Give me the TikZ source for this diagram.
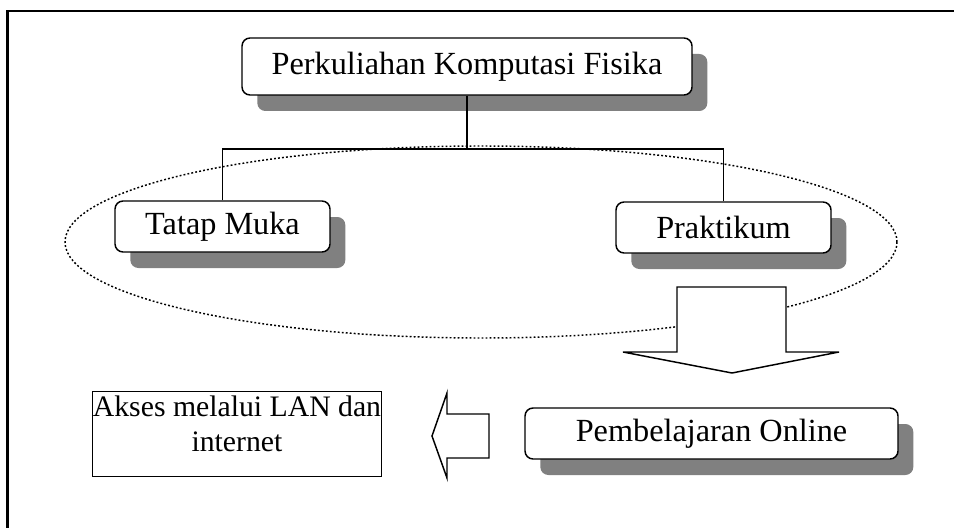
\documentclass[tikz,border=0pt]{standalone}
\usepackage{fontspec}
\setmainfont{Liberation Serif}
\usetikzlibrary{shadows}

\tikzstyle{block} = [rectangle, draw, line width=1.1pt, fill=white, rounded corners=6pt, minimum height=38.25pt, font=\fontsize{24.2}{28}\selectfont, drop shadow={shadow xshift=11.5pt, shadow yshift=-12pt, fill=black!50, opacity=1}]
\tikzstyle{bigarrow} = [draw, line width=1.1pt, fill=white, line join=miter]

\begin{document}
\begin{tikzpicture}[x=0.75pt, y=-0.75pt]
        \tikzset{line/.style={line width=1.1pt}}
        \useasboundingbox (0,0) rectangle (954,528);
        % frame, cut off at the right and bottom
        \draw[line width=1.6pt] (7.5,540) |- (965,11);
        % dotted ellipse round the two ways of teaching
        \draw[line width=1.1pt, dash pattern=on 1.4pt off 1.6pt] (481,242) ellipse [x radius=416, y radius=96];
        \node (kuliah) at (467,66.5) [block, minimum width=337.5pt, minimum height=42.75pt] {Perkuliahan Komputasi Fisika};
        \node (tatap) at (222.5,226.5) [block, minimum width=161.25pt] {Tatap Muka};
        \node (praktikum) at (723.5,227.5) [block, minimum width=161.25pt] {Praktikum};
        \node (online) at (711.5,433.5) [block, minimum width=279.75pt] {Pembelajaran Online};
        \node (akses) at (237,391) [anchor=north, draw, line width=1.1pt, minimum width=216pt, inner xsep=0.5pt, inner ysep=3pt, align=center, font=\fontsize{22.3}{26}\selectfont] {Akses melalui LAN dan\\internet\rule[-16pt]{0pt}{16pt}};
        \coordinate (split) at (467,149);
        \draw[line] (kuliah.south) -- (split);
        \draw[line] (tatap.north) |- (split) -| (praktikum.north);
        % block arrows
        \draw[bigarrow] (677,287) -- (786,287) -- (786,352) -- (839,352) -- (732,373) -- (623,352) -- (677,352) -- cycle;
        \draw[bigarrow] (489,414) -- (489,458) -- (447,458) -- (447,478) -- (432,436) -- (447,393) -- (447,414) -- cycle;
    \end{tikzpicture}
\end{document}
